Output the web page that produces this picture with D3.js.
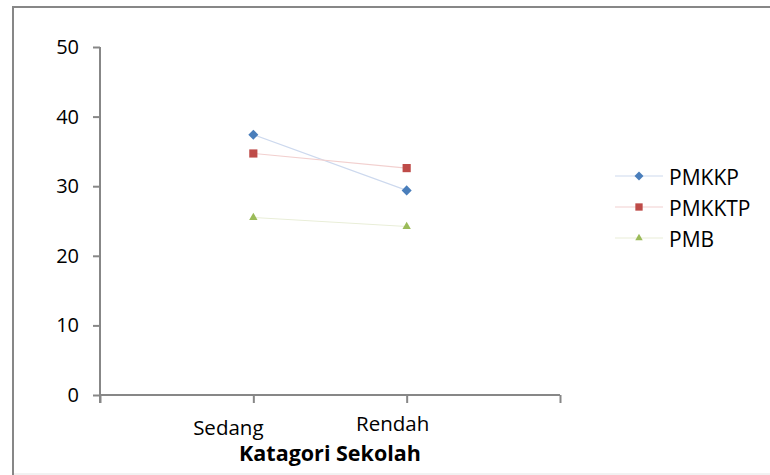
<!DOCTYPE html>
<html>
<head>
<meta charset="utf-8">
<script src="https://cdn.jsdelivr.net/npm/d3@7"></script>
<style>
  html, body { margin: 0; padding: 0; background: #fff; }
  svg { display: block; font-family: "Open Sans", sans-serif; }
</style>
</head>
<body>
<svg id="chart" width="770" height="475"></svg>
<script>
// Categories and series values
const categories = ["Sedang", "Rendah"];
const seriesNames = ["PMKKP", "PMKKTP", "PMB"];
const pmkkp = [37.4, 29.4];
const pmkktp = [34.7, 32.6];
const pmb = [25.5, 24.2];
const yTicks = [0, 10, 20, 30, 40, 50];
const xTitle = "Katagori Sekolah";

const series = [
  { name: seriesNames[0], values: pmkkp, line: "#cdd9ee", fill: "#4a7ebb", shape: d3.symbolDiamond2, size: 64 },
  { name: seriesNames[1], values: pmkktp, line: "#f2d0cf", fill: "#be4b48", shape: d3.symbolSquare2, size: 85 },
  { name: seriesNames[2], values: pmb, line: "#e9eed8", fill: "#9bbb59", shape: d3.symbolTriangle2, size: 50 }
];

const svg = d3.select("#chart");
const axisColor = "#878787";

// Outer chart frame (left and top edges visible, lighter bottom edge)
svg.append("path").attr("d", "M13,475 L13,7 L770,7")
  .attr("fill", "none").attr("stroke", axisColor).attr("stroke-width", 2);
svg.append("line").attr("x1", 14).attr("x2", 770).attr("y1", 474).attr("y2", 474)
  .attr("stroke", "#e4e4e4").attr("stroke-width", 1);

// Scales: category slots sit on the inner ticks of a 3-slot axis
const x = d3.scaleLinear().domain([0, 3]).range([100, 560]);
const y = d3.scaleLinear().domain([0, 50]).range([395, 47]);
const xPos = i => x(i + 1);

// Y axis
const yAxis = svg.append("g").attr("transform", "translate(100,0)")
  .call(d3.axisLeft(y).tickValues(yTicks).tickSize(7).tickPadding(14).tickFormat(d3.format("d")));
yAxis.select(".domain").attr("stroke", axisColor).attr("stroke-width", 2)
  .attr("d", `M0,${y(50)}H0V${y(0) + 8}`);
yAxis.selectAll(".tick line").attr("stroke", axisColor).attr("stroke-width", 2);
yAxis.selectAll(".tick text").attr("font-size", 20).attr("fill", "#000")
  .attr("font-family", "'Open Sans', sans-serif");

// X axis (ticks at slot boundaries, labels for the two categories)
const xAxis = svg.append("g").attr("transform", `translate(0,${y(0)})`)
  .call(d3.axisBottom(x).tickValues([0, 1, 2, 3]).tickSize(8).tickFormat(""));
xAxis.select(".domain").attr("stroke", axisColor).attr("stroke-width", 2)
  .attr("d", `M${x(0)},0H${x(3)}`);
xAxis.selectAll(".tick line").attr("stroke", axisColor).attr("stroke-width", 2);

// Category labels
const labelShift = [{ dx: -25, dy: 40 }, { dx: -14, dy: 36 }];
svg.append("g").selectAll("text").data(categories).join("text")
  .attr("x", (d, i) => xPos(i) + labelShift[i].dx)
  .attr("y", (d, i) => y(0) + labelShift[i].dy)
  .attr("text-anchor", "middle")
  .attr("font-size", 20.5)
  .attr("fill", "#000")
  .text(d => d);

// Axis title
svg.append("text")
  .attr("x", 330).attr("y", 461)
  .attr("text-anchor", "middle")
  .attr("font-size", 21.5).attr("font-weight", "bold")
  .attr("fill", "#000")
  .text(xTitle);

// Series lines and markers
const lineGen = d3.line().x((d, i) => xPos(i)).y(d => y(d));
const plot = svg.append("g");
series.forEach(s => {
  plot.append("path").datum(s.values)
    .attr("d", lineGen)
    .attr("fill", "none").attr("stroke", s.line).attr("stroke-width", 1.1);
});
series.forEach(s => {
  plot.append("g").selectAll("path").data(s.values).join("path")
    .attr("transform", (d, i) => `translate(${xPos(i)},${y(d)})`)
    .attr("d", d3.symbol().type(s.shape).size(s.size))
    .attr("fill", s.fill);
});

// Legend
const legend = svg.append("g");
const legendRows = [176, 207, 238];
series.forEach((s, i) => {
  const g = legend.append("g").attr("transform", `translate(0,${legendRows[i]})`);
  g.append("line").attr("x1", 615).attr("x2", 663).attr("y1", 0).attr("y2", 0)
    .attr("stroke", s.line).attr("stroke-width", 1.1);
  g.append("path").attr("transform", "translate(639,0)")
    .attr("d", d3.symbol().type(s.shape).size(s.size * 0.8))
    .attr("fill", s.fill);
  g.append("text").attr("x", 669).attr("y", 8.5)
    .attr("font-size", 21).attr("fill", "#000")
    .text(s.name);
});
</script>
</body>
</html>
